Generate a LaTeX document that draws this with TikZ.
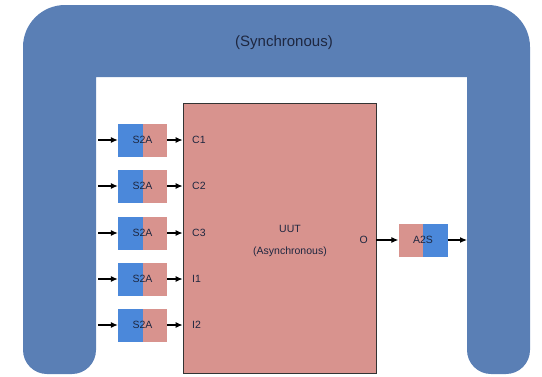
\documentclass[tikz,border=0pt]{standalone}
\usepackage{fontspec}
\setmainfont{Liberation Sans}
\usetikzlibrary{arrows.meta,positioning,calc}
\definecolor{frameblue}{HTML}{5A7FB5}
\definecolor{sigblue}{HTML}{4B88DA}
\definecolor{asyncpink}{HTML}{D8938E}
\definecolor{inktext}{HTML}{1E2740}
\tikzset{
  frame/.style  ={fill=frameblue},
  uutbox/.style ={draw=black!80, fill=asyncpink, thick, inner sep=0pt},
  sabox/.style  ={fill=asyncpink, minimum width=49pt, minimum height=33pt, inner sep=0pt,
                  font=\fontsize{10.5}{12}\selectfont, text=inktext,
                  path picture={\fill[sigblue] (path picture bounding box.south west)
                                rectangle (path picture bounding box.north);}},
  asbox/.style  ={sabox, fill=sigblue,
                  path picture={\fill[asyncpink] (path picture bounding box.south west)
                                rectangle (path picture bounding box.north);}},
  pin/.style    ={font=\fontsize{10.5}{12}\selectfont, text=inktext, anchor=west, inner sep=1pt},
  lbl/.style    ={font=\fontsize{10.5}{13}\selectfont, text=inktext, align=center},
  ar/.style     ={-{Latex[length=7pt,width=6pt]}, draw=black, line width=1.1pt},
}
\begin{document}
\begin{tikzpicture}[x=1pt,y=-1pt]
\useasboundingbox (0,0) rectangle (542,376);
% synchronous frame
\fill[frame] (467,200) [rounded corners=24pt] -- (467,374) -- (530,374) -- (530,300)
  [rounded corners=42pt] -- (530,5) -- (23,5) -- (23,100)
  [rounded corners=24pt] -- (23,374) -- (96,374) -- (96,200)
  [sharp corners] -- (96,77) -- (467,77) -- cycle;
\node[lbl, font=\fontsize{15}{18}\selectfont] (sync) at (284,43) {(Synchronous)};

% unit under test
\node[uutbox, minimum width=193pt, minimum height=270pt] (uut) at (279.5,238) {};
\node[lbl] (uutlbl) at (290,241) {UUT\\[9pt](Asynchronous)};

% input converters
\node[sabox] (s1) at (142.5,140) {S2A};
\node[sabox] (s2) at (142.5,186) {S2A};
\node[sabox] (s3) at (142.5,233) {S2A};
\node[sabox] (s4) at (142.5,279) {S2A};
\node[sabox] (s5) at (142.5,325) {S2A};
\coordinate (in1) at (98,140); \coordinate (in2) at (98,186); \coordinate (in3) at (98,233);
\coordinate (in4) at (98,279); \coordinate (in5) at (98,325);
\node[pin] (c1) at (191,140) {C1};
\node[pin] (c2) at (191,186) {C2};
\node[pin] (c3) at (191,233) {C3};
\node[pin] (i1) at (191,279) {I1};
\node[pin] (i2) at (191,325) {I2};
\draw[ar] (in1) -- (s1); \draw[ar] (s1) -- (s1 -| uut.west);
\draw[ar] (in2) -- (s2); \draw[ar] (s2) -- (s2 -| uut.west);
\draw[ar] (in3) -- (s3); \draw[ar] (s3) -- (s3 -| uut.west);
\draw[ar] (in4) -- (s4); \draw[ar] (s4) -- (s4 -| uut.west);
\draw[ar] (in5) -- (s5); \draw[ar] (s5) -- (s5 -| uut.west);

% output converter
\node[pin, anchor=east] (o) at (369,240) {O};
\node[asbox] (a2s) at (423,240) {A2S};
\coordinate (out) at (467,240);
\draw[ar] (o -| uut.east) -- (a2s); \draw[ar] (a2s) -- (out);
\end{tikzpicture}
\end{document}
